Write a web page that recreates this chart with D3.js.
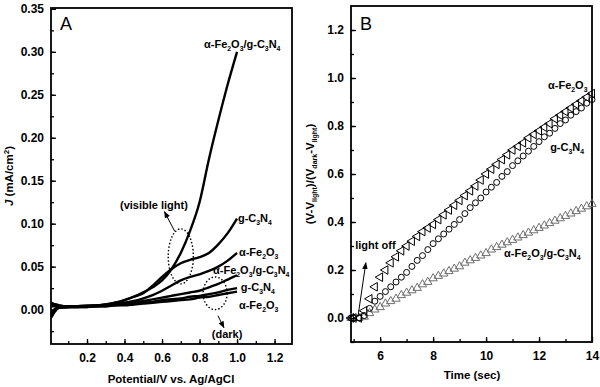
<!DOCTYPE html>
<html>
<head>
<meta charset="utf-8">
<script src="https://cdn.jsdelivr.net/npm/d3@7"></script>
<style>
  body { margin: 0; background: #fff; }
  svg text { font-family: "Liberation Sans", Arial, sans-serif; }
</style>
</head>
<body>
<svg id="chart" width="600" height="387"></svg>
<script>
// ---- panel A : J vs potential ----
var potential = [0.01, 0.03, 0.05, 0.1, 0.15, 0.2, 0.25, 0.3, 0.35, 0.4, 0.45, 0.5,
  0.55, 0.6, 0.65, 0.7, 0.75, 0.8, 0.85, 0.9, 0.95, 1.0];
var compositeLight = [-0.006, 0.0, 0.002, 0.003, 0.004, 0.004, 0.005, 0.006, 0.008, 0.011, 0.015, 0.020,
  0.026, 0.034, 0.047, 0.066, 0.092, 0.125, 0.175, 0.22, 0.262, 0.30];
var gcnLight = [0.008, 0.006, 0.005, 0.004, 0.004, 0.005, 0.005, 0.006, 0.008, 0.011, 0.015, 0.019,
  0.028, 0.038, 0.047, 0.054, 0.058, 0.061, 0.066, 0.076, 0.089, 0.106];
var feLight = [0.007, 0.006, 0.005, 0.004, 0.004, 0.004, 0.005, 0.005, 0.006, 0.008, 0.010, 0.013,
  0.017, 0.022, 0.028, 0.034, 0.038, 0.041, 0.045, 0.050, 0.057, 0.066];
var compositeDark = [-0.004, 0.001, 0.002, 0.003, 0.003, 0.004, 0.004, 0.005, 0.006, 0.007, 0.008, 0.010,
  0.012, 0.014, 0.016, 0.018, 0.020, 0.022, 0.026, 0.030, 0.035, 0.040];
var gcnDark = [-0.009, -0.002, 0.002, 0.003, 0.003, 0.003, 0.004, 0.004, 0.005, 0.006, 0.007, 0.008,
  0.009, 0.011, 0.012, 0.013, 0.015, 0.016, 0.018, 0.020, 0.023, 0.025];
var feDark = [0.004, 0.004, 0.003, 0.003, 0.003, 0.003, 0.004, 0.004, 0.005, 0.005, 0.006, 0.007,
  0.008, 0.009, 0.010, 0.011, 0.012, 0.014, 0.015, 0.017, 0.019, 0.021];
var ticksAX = [0.2, 0.4, 0.6, 0.8, 1.0, 1.2];
var ticksAY = [0.00, 0.05, 0.10, 0.15, 0.20, 0.25, 0.30, 0.35];

// ---- panel B : normalised voltage decay ----
var timeSec = [4.9, 5.0, 5.2, 5.4, 5.6, 5.8, 6.0, 6.2, 6.4, 6.6, 6.8, 7.0, 7.2, 7.4, 7.6, 7.8, 8.0,
  8.2, 8.4, 8.6, 8.8, 9.0, 9.2, 9.4, 9.6, 9.8, 10.0, 10.2, 10.4, 10.6, 10.8, 11.0, 11.2, 11.4,
  11.6, 11.8, 12.0, 12.2, 12.4, 12.6, 12.8, 13.0, 13.2, 13.4, 13.6, 13.8, 14.0];
var feDecay = [0.0, 0.0, 0.0, 0.03, 0.08, 0.13, 0.17, 0.20, 0.23, 0.255, 0.28, 0.30, 0.32, 0.34,
  0.36, 0.375, 0.39, 0.41, 0.43, 0.45, 0.47, 0.49, 0.51, 0.53, 0.55, 0.575, 0.60, 0.62, 0.64,
  0.66, 0.68, 0.70, 0.715, 0.73, 0.75, 0.765, 0.78, 0.795, 0.81, 0.83, 0.845, 0.86, 0.875,
  0.89, 0.905, 0.92, 0.935];
var gcnDecay = [0.0, 0.0, 0.0, 0.01, 0.04, 0.07, 0.09, 0.11, 0.13, 0.15, 0.17, 0.19, 0.215, 0.24,
  0.26, 0.285, 0.31, 0.33, 0.35, 0.37, 0.39, 0.41, 0.435, 0.46, 0.48, 0.50, 0.525, 0.545, 0.565,
  0.59, 0.61, 0.635, 0.655, 0.675, 0.695, 0.715, 0.735, 0.755, 0.77, 0.79, 0.81, 0.825, 0.845,
  0.86, 0.875, 0.895, 0.91];
var compositeDecay = [0.0, 0.0, 0.0, 0.005, 0.02, 0.035, 0.045, 0.06, 0.07, 0.08, 0.095, 0.105,
  0.115, 0.125, 0.14, 0.15, 0.165, 0.175, 0.185, 0.195, 0.205, 0.215, 0.23, 0.24, 0.25, 0.26,
  0.27, 0.285, 0.295, 0.305, 0.315, 0.325, 0.335, 0.345, 0.355, 0.365, 0.375, 0.385, 0.395,
  0.405, 0.415, 0.425, 0.435, 0.445, 0.455, 0.465, 0.475];
var ticksBX = [6, 8, 10, 12, 14];
var ticksBY = [0.0, 0.2, 0.4, 0.6, 0.8, 1.0, 1.2];

var svg = d3.select('#chart');

var xA = d3.scaleLinear().domain([0.008, 1.293]).range([51, 292]);
var yA = d3.scaleLinear().domain([-0.04, 0.351]).range([344, 8]);
var xB = d3.scaleLinear().domain([4.9, 14]).range([351, 592]);
var yB = d3.scaleLinear().domain([-0.1, 1.3]).range([342, 6]);

// text with _x subscripts, e.g. "α-Fe_2O_3"
var richText = function (sel, str, size) {
  var parts = str.split(/(_\d)/);
  var shifted = false;
  parts.forEach(function (p) {
    if (p === '') return;
    if (p.charAt(0) === '_') {
      sel.append('tspan').attr('dy', shifted ? 0 : 3).attr('font-size', size * 0.62).text(p.slice(1));
      shifted = true;
    } else {
      sel.append('tspan').attr('dy', shifted ? -3 : 0).text(p);
      shifted = false;
    }
  });
};

var addLabel = function (x, y, str, anchor, size) {
  var t = svg.append('text')
      .attr('x', x).attr('y', y)
      .attr('font-size', size || 11)
      .attr('font-weight', 'bold')
      .attr('text-anchor', anchor || 'start');
  richText(t, str, size || 11);
  return t;
};

var drawAxes = function (x, y, xt, xminor, yt, yminor, xfmt, yfmt) {
  var bottom = y.range()[0], left = x.range()[0];
  var gx = svg.append('g').attr('transform', 'translate(0,' + bottom + ')');
  gx.call(d3.axisBottom(x).tickValues(xminor).tickSize(-3).tickFormat(''));
  gx.append('g').call(d3.axisBottom(x).tickValues(xt).tickSize(-5).tickPadding(9).tickFormat(d3.format(xfmt)));
  var gy = svg.append('g').attr('transform', 'translate(' + left + ',0)');
  gy.call(d3.axisLeft(y).tickValues(yminor).tickSize(-3).tickFormat(''));
  gy.append('g').call(d3.axisLeft(y).tickValues(yt).tickSize(-5).tickPadding(7).tickFormat(d3.format(yfmt)));
  svg.selectAll('.domain').remove();
  svg.selectAll('.tick line').attr('stroke', '#000').attr('stroke-width', 1.3);
  svg.selectAll('.tick text').attr('font-size', 12).attr('font-weight', 'bold')
      .attr('font-family', '"Liberation Sans", Arial, sans-serif').attr('fill', '#000');
  svg.append('rect')
      .attr('x', left).attr('y', y.range()[1])
      .attr('width', x.range()[1] - left).attr('height', bottom - y.range()[1])
      .attr('fill', 'none').attr('stroke', '#000').attr('stroke-width', 1.8);
};

svg.append('defs').append('marker')
    .attr('id', 'arrow').attr('viewBox', '0 0 10 10')
    .attr('refX', 9).attr('refY', 5)
    .attr('markerWidth', 7).attr('markerHeight', 7)
    .attr('orient', 'auto-start-reverse')
    .append('path').attr('d', 'M0,1 L10,5 L0,9 Z').attr('fill', '#000');

// ---------- panel A ----------
drawAxes(xA, yA, ticksAX, d3.range(0.1, 1.29, 0.1), ticksAY, d3.range(-0.025, 0.35, 0.025), '.1f', '.2f');

var lineA = d3.line()
    .x(function (d) { return xA(d[0]); })
    .y(function (d) { return yA(d[1]); })
    .curve(d3.curveMonotoneX);

[feDark, gcnDark, compositeDark, feLight, gcnLight, compositeLight].forEach(function (s) {
  svg.append('path')
      .datum(d3.zip(potential, s))
      .attr('d', lineA)
      .attr('fill', 'none').attr('stroke', '#000').attr('stroke-width', 2.4);
});

// dotted ellipses round the light and dark curves
var ellipses = [{v: 0.70, j: 0.062, rv: 0.067, rj: 0.032}, {v: 0.883, j: 0.019, rv: 0.064, rj: 0.019}];
ellipses.forEach(function (e) {
  svg.append('ellipse')
      .attr('cx', xA(e.v)).attr('cy', yA(e.j))
      .attr('rx', xA(e.v + e.rv) - xA(e.v)).attr('ry', yA(e.j) - yA(e.j + e.rj))
      .attr('fill', 'none').attr('stroke', '#000').attr('stroke-width', 1.4)
      .attr('stroke-dasharray', '1.5,2');
});
svg.append('line')
    .attr('x1', xA(0.668)).attr('y1', yA(0.091)).attr('x2', xA(0.613)).attr('y2', yA(0.114))
    .attr('stroke', '#000').attr('stroke-width', 1).attr('marker-end', 'url(#arrow)');
svg.append('line')
    .attr('x1', xA(0.898)).attr('y1', yA(-0.007)).attr('x2', xA(0.93)).attr('y2', yA(-0.021))
    .attr('stroke', '#000').attr('stroke-width', 1).attr('marker-end', 'url(#arrow)');

addLabel(xA(0.557), yA(0.117), '(visible light)', 'middle');
addLabel(xA(0.947), yA(-0.033), '(dark)', 'middle');
addLabel(xA(0.824), yA(0.305), 'α-Fe_2O_3/g-C_3N_4');
addLabel(xA(1.005), yA(0.102), 'g-C_3N_4');
addLabel(xA(1.01), yA(0.062), 'α-Fe_2O_3');
addLabel(xA(0.872), yA(0.042), 'α-Fe_2O_3/g-C_3N_4');
addLabel(xA(1.02), yA(0.022), 'g-C_3N_4');
addLabel(xA(1.01), yA(0.001), 'α-Fe_2O_3');

svg.append('text').attr('x', 60).attr('y', 30).attr('font-size', 18).text('A');
svg.append('text').attr('x', 171).attr('y', 383).attr('font-size', 11.5).attr('font-weight', 'bold')
    .attr('text-anchor', 'middle').text('Potential/V vs. Ag/AgCl');
var ttlA = svg.append('text').attr('transform', 'translate(13,176) rotate(-90)')
    .attr('font-size', 11.5).attr('font-weight', 'bold').attr('text-anchor', 'middle');
ttlA.append('tspan').attr('font-style', 'italic').text('J');
ttlA.append('tspan').text(' (mA/cm');
ttlA.append('tspan').attr('dy', -4).attr('font-size', 8).text('2');
ttlA.append('tspan').attr('dy', 4).text(')');

// ---------- panel B ----------
drawAxes(xB, yB, ticksBX, d3.range(5, 14, 1), ticksBY, d3.range(-0.1, 1.3, 0.1), 'd', '.1f');

var seriesB = [
  {vals: compositeDecay, sym: d3.symbolTriangle, rot: 0, stroke: '#6e6e6e', size: 30},
  {vals: gcnDecay, sym: d3.symbolCircle, rot: 0, stroke: '#000', size: 28},
  {vals: feDecay, sym: d3.symbolTriangle, rot: -90, stroke: '#000', size: 32}
];
seriesB.forEach(function (s) {
  svg.append('g').selectAll('path')
      .data(d3.zip(timeSec, s.vals))
      .enter().append('path')
      .attr('d', d3.symbol().type(s.sym).size(s.size))
      .attr('transform', function (d) {
        return 'translate(' + xB(d[0]) + ',' + yB(d[1]) + ') rotate(' + s.rot + ')';
      })
      .attr('fill', 'none').attr('stroke', s.stroke).attr('stroke-width', 1);
});

svg.append('line')
    .attr('x1', xB(5.16)).attr('y1', yB(0.004)).attr('x2', xB(5.46)).attr('y2', yB(0.23))
    .attr('stroke', '#000').attr('stroke-width', 1).attr('marker-end', 'url(#arrow)');
addLabel(xB(5.06), yB(0.2875), 'light off');
addLabel(xB(12.34), yB(0.954), 'α-Fe_2O_3');
addLabel(xB(12.42), yB(0.696), 'g-C_3N_4');
addLabel(xB(10.68), yB(0.254), 'α-Fe_2O_3/g-C_3N_4');

svg.append('text').attr('x', 360).attr('y', 30).attr('font-size', 18).text('B');
svg.append('text').attr('x', 472).attr('y', 379).attr('font-size', 11.5).attr('font-weight', 'bold')
    .attr('text-anchor', 'middle').text('Time (sec)');
var ttlB = svg.append('text').attr('transform', 'translate(314,174) rotate(-90)')
    .attr('font-size', 11.5).attr('font-weight', 'bold').attr('text-anchor', 'middle');
ttlB.append('tspan').text('(V-V');
ttlB.append('tspan').attr('dy', 3).attr('font-size', 7).text('light');
ttlB.append('tspan').attr('dy', -3).text(')/(V');
ttlB.append('tspan').attr('dy', 3).attr('font-size', 7).text('dark');
ttlB.append('tspan').attr('dy', -3).text('-V');
ttlB.append('tspan').attr('dy', 3).attr('font-size', 7).text('light');
ttlB.append('tspan').attr('dy', -3).text(')');
</script>
</body>
</html>
